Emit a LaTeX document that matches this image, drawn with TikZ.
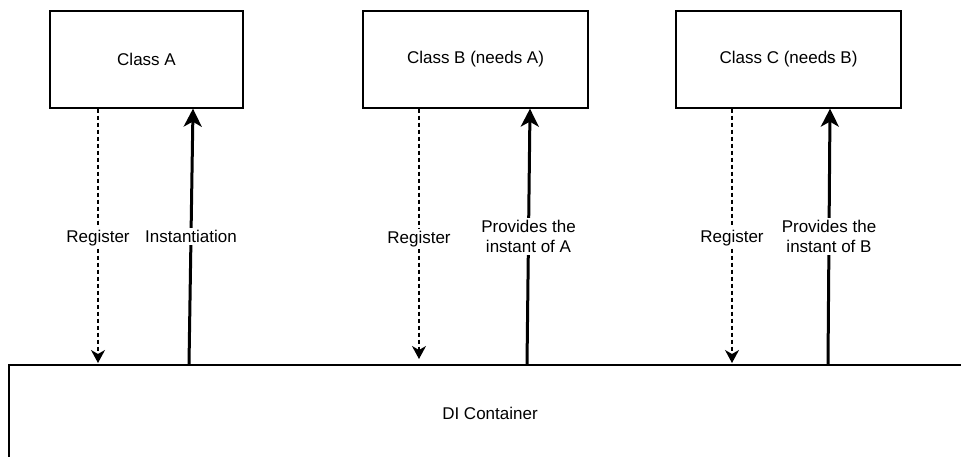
\documentclass[tikz,border=0pt]{standalone}
\usepackage{fontspec}
\setmainfont{Liberation Sans}
\usetikzlibrary{arrows.meta}

\begin{document}
\begin{tikzpicture}[x=1pt, y=-1pt,
    box/.style={draw, line width=1.3pt, inner sep=0pt, font=\fontsize{17}{20}\selectfont},
    reg/.style={line width=1.2pt, dash pattern=on 4pt off 3pt, -{Stealth[length=13pt, width=14pt, inset=4pt]}},
    inst/.style={line width=3pt, -{Stealth[length=18pt, width=18pt, inset=5pt]}},
    lbl/.style={fill=white, inner sep=2pt, align=center, font=\fontsize{17}{20}\selectfont}]
    \clip (0,0) rectangle (961,456);
    \node (classA) at (146.5,59.5) [box, minimum width=193pt, minimum height=97pt] {Class A};
    \node (classB) at (475.5,59.5) [box, minimum width=225pt, minimum height=97pt] {Class B (needs A)};
    \node (classC) at (788.5,59.5) [box, minimum width=225pt, minimum height=97pt] {Class C (needs B)};
    \node (di) at (490,413) [box, minimum width=962pt, minimum height=96pt] {DI Container};
    \coordinate (regA) at (98,363);
    \coordinate (regB) at (419,359);
    \coordinate (regC) at (732,363);
    \coordinate (instA) at (189,364);
    \coordinate (instB) at (527,364);
    \coordinate (instC) at (828,364);
    \draw[reg] (classA.south -| regA) -- node[lbl, pos=0.51] {Register} (regA);
    \draw[reg] (classB.south -| regB) -- node[lbl, pos=0.52] {Register} (regB);
    \draw[reg] (classC.south -| regC) -- node[lbl, pos=0.51] {Register} (regC);
    \draw[inst] (instA) -- node[lbl] {Instantiation} (classA.south -| 193,0);
    \draw[inst] (instB) -- node[lbl] {Provides the\\instant of A} (classB.south -| 530,0);
    \draw[inst] (instC) -- node[lbl] {Provides the\\instant of B} (classC.south -| 830,0);
\end{tikzpicture}
\end{document}
